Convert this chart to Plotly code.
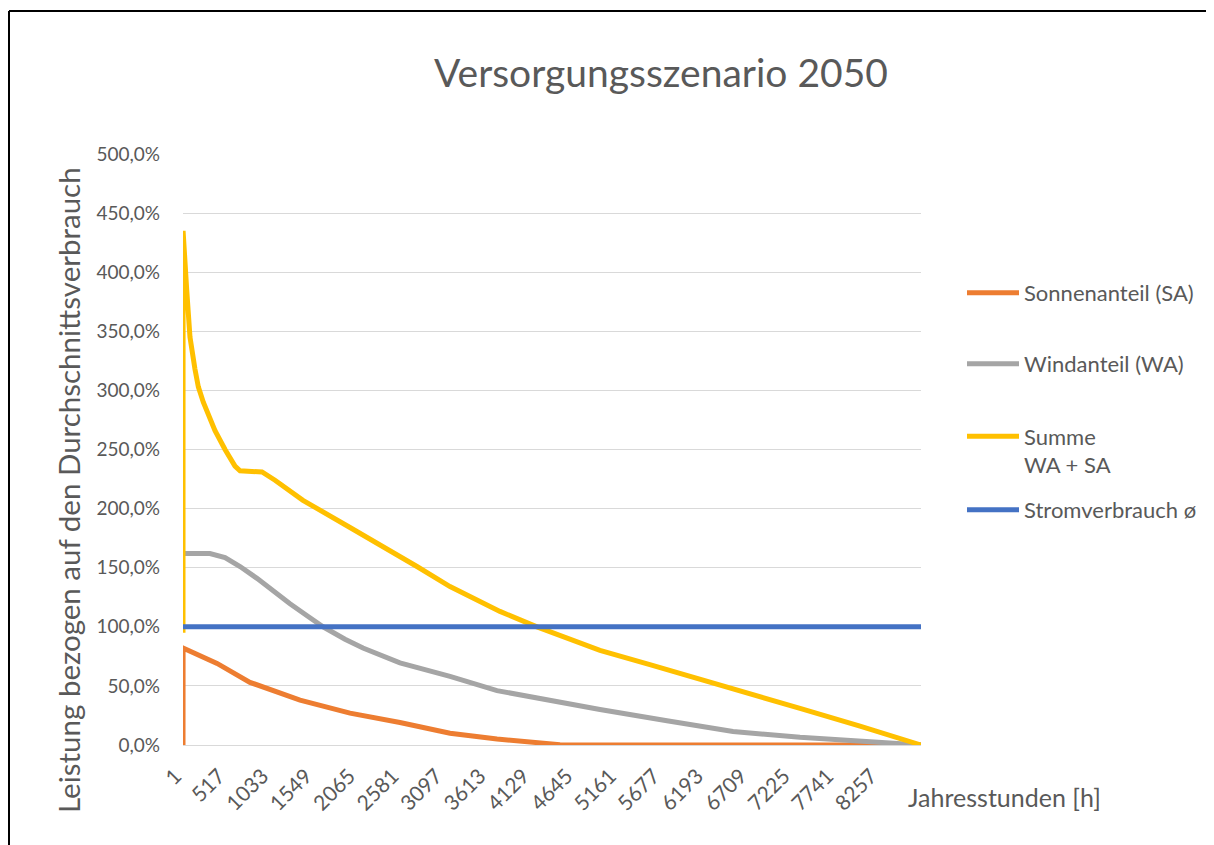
import plotly.graph_objects as go

# ---------------- data ----------------
hours_sa = [1, 2, 405, 796, 1390, 1983, 2576, 3170, 3728, 4119, 4475, 4712, 8760]
sonnenanteil = [0, 82, 69, 53, 38, 27, 19, 10, 5, 2, 0.3, 0, 0]

hours_wa = [1, 321, 500, 678, 879, 1069, 1271, 1461, 1663, 1924, 2137, 2576, 3170,
            3728, 4357, 4950, 5745, 6529, 7324, 8036, 8510, 8760]
windanteil = [162, 162, 158.5, 151, 141, 130, 119.5, 110, 100, 89.5, 82, 69.5, 58,
              46, 37.5, 30, 20.5, 11.5, 6.5, 3, 1.2, 0]

hours_sum = [1, 2, 45, 84, 143, 183, 242, 301, 381, 500, 618, 678, 939, 1093,
             1271, 1425, 1983, 2375, 2778, 3170, 3763, 4202, 4950, 5542, 6137,
             6529, 7324, 8036, 8760]
summe = [95, 435, 385, 345, 318, 303, 290, 280, 266, 250, 236, 232, 231, 224,
         215, 207, 184, 168, 151, 134, 113, 100, 80, 68, 56, 48, 31, 16, 0]

hours_sv = [1, 8760]
stromverbrauch = [100, 100]

x_tick_vals = list(range(1, 8760, 516))
x_tick_text = [str(v) for v in x_tick_vals]
y_tick_vals = [0, 50, 100, 150, 200, 250, 300, 350, 400, 450, 500]
y_tick_text = [f"{v:.1f}".replace(".", ",") + "%" for v in y_tick_vals]

names = ["Sonnenanteil (SA)", "Windanteil (WA)", "Summe<br>WA + SA", "Stromverbrauch ø"]
colors = ["#ED7D31", "#A5A5A5", "#FFC000", "#4472C4"]
legend_ids = ["legend", "legend2", "legend3", "legend4"]

FONT = "Lato, 'Open Sans', sans-serif"
TXT = "#595959"

# page offset of the plot div (body margin) and target geometry in screen px
OFF = 8
SW, SH = 1214, 845
L, R, T, B = 183, 921, 154, 745
W, H = SW - OFF, SH - OFF


def px_x(p):
    return (p - L) / (R - L)


def px_y(p):
    return (B - p) / (B - T)


fig = go.Figure()
series = [(hours_sa, sonnenanteil), (hours_wa, windanteil),
          (hours_sum, summe), (hours_sv, stromverbrauch)]
for (xs, ys), nm, col, lg in zip(series, names, colors, legend_ids):
    fig.add_trace(go.Scatter(x=xs, y=ys, mode="lines", name=nm, legend=lg,
                             line=dict(color=col, width=5)))

legend_centers = [293, 364, 451, 510]
leg_common = dict(xanchor="left", yanchor="middle", itemwidth=52, valign="top",
                  bgcolor="rgba(0,0,0,0)",
                  font=dict(size=22, color=TXT, family=FONT))
legends = {}
for lg, yc in zip(legend_ids, legend_centers):
    legends[lg] = dict(x=px_x(962), y=px_y(yc), **leg_common)

# trailing no-break spaces pull the rotated labels so their ends sit on the tick
x_tick_labels = [t + "\u00a0\u00a0" for t in x_tick_text]

fig.update_layout(
    width=W, height=H,
    margin=dict(l=L - OFF, r=W - (R - OFF), t=T - OFF, b=H - (B - OFF),
                autoexpand=False),
    paper_bgcolor="white", plot_bgcolor="white",
    font=dict(family=FONT, color=TXT),
    title=dict(text="Versorgungsszenario 2050", x=(661 - OFF) / W,
               xanchor="center", y=1 - (73 - OFF) / H, yanchor="middle",
               font=dict(size=39, color=TXT, family=FONT)),
    showlegend=True,
    xaxis=dict(range=[1, 8760], tickmode="array", tickvals=x_tick_vals,
               ticktext=x_tick_labels, tickangle=-45, showgrid=False,
               zeroline=False, showline=False, ticks="", ticklabelstandoff=6,
               tickfont=dict(size=21, color=TXT, family=FONT)),
    yaxis=dict(range=[0, 500], tickmode="array", tickvals=y_tick_vals,
               ticktext=y_tick_text, showgrid=True,
               gridcolor="#D9D9D9", gridwidth=1.3, zeroline=True,
               zerolinecolor="#D9D9D9", zerolinewidth=1.3, showline=False,
               ticks="", ticklabelstandoff=22,
               tickfont=dict(size=19, color=TXT, family=FONT)),
    annotations=[
        dict(text="Leistung bezogen auf den Durchschnittsverbrauch",
             xref="paper", yref="paper", x=px_x(69), y=px_y(490),
             xanchor="center", yanchor="middle", textangle=-90,
             showarrow=False, font=dict(size=29.5, color=TXT, family=FONT)),
        dict(text="Jahresstunden [h]", xref="paper", yref="paper",
             x=px_x(906), y=px_y(797), xanchor="left", yanchor="middle",
             showarrow=False, font=dict(size=25, color=TXT, family=FONT)),
    ],
    shapes=[
        dict(type="line", xref="paper", yref="paper", x0=px_x(9), x1=px_x(1300),
             y0=px_y(11), y1=px_y(11), line=dict(color="black", width=2)),
        dict(type="line", xref="paper", yref="paper", x0=px_x(9), x1=px_x(9),
             y0=px_y(11), y1=px_y(900), line=dict(color="black", width=2)),
    ],
    **legends,
)

fig.write_html("out.html")
